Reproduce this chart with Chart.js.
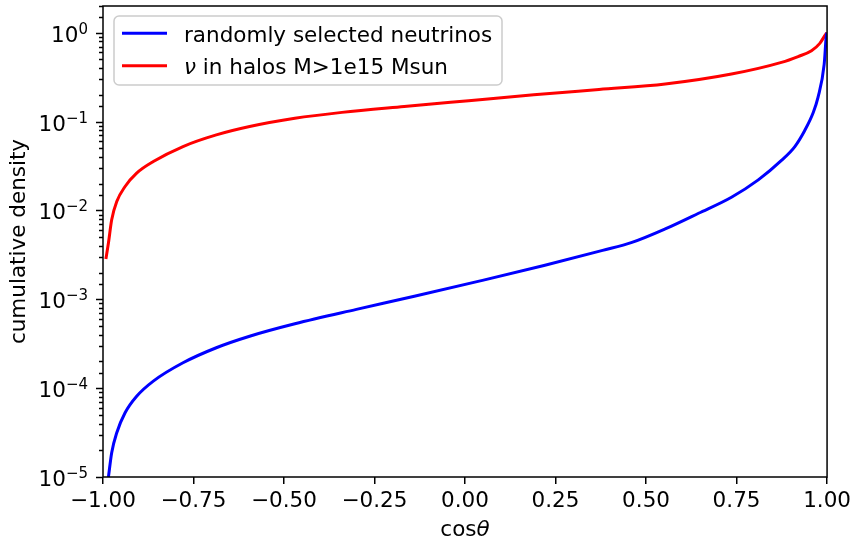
<!DOCTYPE html>
<html>
<head>
<meta charset="utf-8">
<script src="https://cdn.jsdelivr.net/npm/chart.js@4.4.0/dist/chart.umd.min.js"></script>
<style>
  html, body { margin: 0; padding: 0; background: #fff; }
  #wrap { width: 856px; height: 541px; }
</style>
</head>
<body>
<div id="wrap"><canvas id="chart" width="856" height="541"></canvas></div>
<script>
// values (cumulative density vs cos theta)
const randomX = [-0.985, -0.976, -0.962, -0.939, -0.907, -0.861, -0.779, -0.687, -0.595, -0.47, -0.30, -0.14, 0.039, 0.218, 0.38, 0.461, 0.553, 0.645, 0.736, 0.81, 0.874, 0.911, 0.938, 0.961, 0.975, 0.992, 0.998, 1.0];
const randomY = [1.0e-5, 1.88e-5, 3.15e-5, 5.28e-5, 8.1e-5, 1.2e-4, 1.93e-4, 2.85e-4, 3.84e-4, 5.3e-4, 7.7e-4, 1.08e-3, 1.6e-3, 2.4e-3, 3.55e-3, 4.37e-3, 6.2e-3, 9.3e-3, 1.41e-2, 2.21e-2, 3.66e-2, 5.24e-2, 7.9e-2, 0.124, 0.187, 0.44, 0.93, 1.0];
const haloX = [-0.992, -0.985, -0.976, -0.962, -0.939, -0.907, -0.861, -0.779, -0.687, -0.595, -0.47, -0.34, -0.168, 0.01, 0.19, 0.37, 0.553, 0.736, 0.874, 0.92, 0.957, 0.98, 0.997, 1.0];
const haloY = [0.00284, 0.0043, 0.00785, 0.0126, 0.0186, 0.0263, 0.0355, 0.0524, 0.0708, 0.088, 0.109, 0.127, 0.148, 0.172, 0.200, 0.23, 0.265, 0.343, 0.464, 0.54, 0.628, 0.76, 0.97, 1.0];

const seriesLabels = ['randomly selected neutrinos', 'ν in halos M>1e15 Msun'];
const seriesColors = ['#0000ff', '#ff0000'];
const xTickStep = 0.25;

const FONT = '"DejaVu Sans", sans-serif';
const FS = 21.5;

const toPoints = (xs, ys) => xs.map((x, i) => ({ x: x, y: ys[i] }));

// frame, log ticks, axis titles and legend drawn over the chart
const decor = {
  id: 'decor',
  afterDraw(chart) {
    const ctx = chart.ctx;
    const a = chart.chartArea;
    const ys = chart.scales.y;
    ctx.save();

    // y tick marks (major / minor)
    ctx.strokeStyle = '#000';
    ctx.lineWidth = 1.5;
    ys.ticks.forEach(t => {
      const e = Math.log10(t.value);
      const major = Math.abs(e - Math.round(e)) < 1e-9;
      const py = Math.round(ys.getPixelForValue(t.value)) + 0.5;
      ctx.beginPath();
      ctx.moveTo(a.left - (major ? 7 : 4), py);
      ctx.lineTo(a.left, py);
      ctx.stroke();
      if (major) {
        const exp = String(Math.round(e)).replace('-', '\u2212');
        ctx.fillStyle = '#000';
        ctx.textBaseline = 'alphabetic';
        ctx.textAlign = 'right';
        ctx.font = '15px ' + FONT;
        const ew = ctx.measureText(exp).width;
        ctx.fillText(exp, a.left - 15, py + 0.5);
        ctx.font = FS + 'px ' + FONT;
        ctx.fillText('10', a.left - 15 - ew, py + 8);
      }
    });

    // frame
    ctx.lineWidth = 1.5;
    ctx.strokeRect(a.left, a.top, a.right - a.left, a.bottom - a.top);

    // x title: cos theta
    ctx.fillStyle = '#000';
    ctx.textBaseline = 'alphabetic';
    ctx.textAlign = 'left';
    ctx.font = FS + 'px ' + FONT;
    const w1 = ctx.measureText('cos').width;
    ctx.font = 'italic ' + FS + 'px ' + FONT;
    const w2 = ctx.measureText('θ').width;
    const cx = (a.left + a.right) / 2 - (w1 + w2) / 2;
    ctx.font = FS + 'px ' + FONT;
    ctx.fillText('cos', cx, 536);
    ctx.font = 'italic ' + FS + 'px ' + FONT;
    ctx.fillText('θ', cx + w1, 536);

    // y title
    ctx.save();
    ctx.translate(25, (a.top + a.bottom) / 2);
    ctx.rotate(-Math.PI / 2);
    ctx.textAlign = 'center';
    ctx.font = FS + 'px ' + FONT;
    ctx.fillText('cumulative density', 0, 0);
    ctx.restore();

    // legend
    ctx.fillStyle = 'rgba(255,255,255,0.8)';
    ctx.strokeStyle = '#cccccc';
    ctx.lineWidth = 1.5;
    ctx.beginPath();
    ctx.roundRect(114, 16, 388, 69, 5);
    ctx.fill();
    ctx.stroke();
    const rows = [33.3, 65.8];
    chart.data.datasets.forEach((ds, i) => {
      const ry = rows[i];
      ctx.strokeStyle = ds.borderColor;
      ctx.lineWidth = 3;
      ctx.beginPath();
      ctx.moveTo(122, ry);
      ctx.lineTo(167, ry);
      ctx.stroke();
      ctx.fillStyle = '#000';
      ctx.textAlign = 'left';
      let label = ds.label;
      let tx = 184;
      if (label.startsWith('ν')) {
        ctx.font = 'italic ' + FS + 'px ' + FONT;
        ctx.fillText('ν', tx, ry + 8.3);
        tx += ctx.measureText('ν').width;
        label = label.slice(1);
      }
      ctx.font = FS + 'px ' + FONT;
      ctx.fillText(label, tx, ry + 8.3);
    });
    ctx.restore();
  }
};

new Chart(document.getElementById('chart').getContext('2d'), {
  type: 'line',
  data: {
    datasets: [
      {
        label: seriesLabels[0],
        data: toPoints(randomX, randomY),
        borderColor: seriesColors[0],
        borderWidth: 3,
        pointRadius: 0,
        fill: false,
        cubicInterpolationMode: 'monotone'
      },
      {
        label: seriesLabels[1],
        data: toPoints(haloX, haloY),
        borderColor: seriesColors[1],
        borderWidth: 3,
        pointRadius: 0,
        fill: false,
        cubicInterpolationMode: 'monotone'
      }
    ]
  },
  options: {
    responsive: false,
    animation: false,
    layout: { padding: { left: 0, right: 27, top: 6, bottom: 0 } },
    plugins: { legend: { display: false }, tooltip: { enabled: false } },
    scales: {
      x: {
        type: 'linear',
        min: -1,
        max: 1,
        grid: { drawOnChartArea: false, tickLength: 7, color: '#000', lineWidth: 1.5 },
        border: { display: false },
        ticks: {
          stepSize: xTickStep,
          autoSkip: false,
          maxRotation: 0,
          padding: 5,
          color: '#000',
          font: { family: FONT, size: FS },
          callback: v => v.toFixed(2).replace('-', '\u2212')
        },
        afterFit: s => { s.height = 64; }
      },
      y: {
        type: 'logarithmic',
        min: 1e-5,
        max: 2,
        grid: { display: false },
        border: { display: false },
        ticks: { display: false, autoSkip: false },
        afterFit: s => { s.width = 103; }
      }
    }
  },
  plugins: [decor]
});
</script>
</body>
</html>
